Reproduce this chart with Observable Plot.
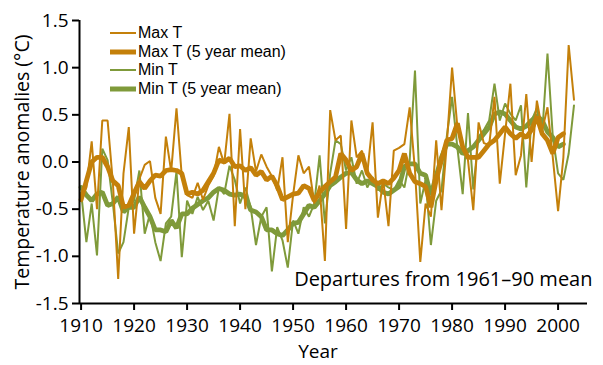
<!DOCTYPE html>
<html>
<head>
<meta charset="utf-8">
<script src="https://cdn.jsdelivr.net/npm/d3@7"></script>
<script src="https://cdn.jsdelivr.net/npm/@observablehq/plot@0.6"></script>
<style>
  html, body { margin: 0; padding: 0; background: #fff; }
  #wrap { position: relative; width: 603px; height: 365px; font-family: "Open Sans", sans-serif; }
  #legend { position: absolute; left: 110px; top: 24px; font-family: "Liberation Sans", Arial, sans-serif; font-size: 16px; line-height: 18.5px; color: #000; }
  #legend .row { display: flex; align-items: center; height: 18.5px; }
  #legend svg { margin-right: 2px; flex: none; }
</style>
</head>
<body>
<div id="wrap"><div id="legend"></div></div>
<script>
// Years
const years = d3.range(1910, 2004);
const meanYears = d3.range(1910, 2002);

// Annual maximum temperature anomalies (°C), 1910–2003
const maxT = [
  -0.38, -0.27, 0.22, -0.50, 0.44, 0.44, -0.22, -1.24, -0.12, 0.37,
  -0.76, -0.18, -0.03, 0.01, -0.38, -0.55, 0.27, -0.10, 0.57, -0.15,
  -0.35, -0.38, -0.22, -0.40, -0.25, -0.15, 0.16, -0.02, 0.51, -0.68,
  0.35, -0.50, 0.25, -0.10, 0.08, -0.05, -0.15, -0.30, 0.05, -0.85,
  -0.35, 0.07, -0.12, -0.05, -0.44, -0.25, -1.05, 0.55, 0.23, 0.28,
  -0.71, 0.44, 0.05, 0.12, -0.12, 0.42, -0.59, -0.19, -0.68, 0.12,
  0.15, 0.19, 0.58, -0.09, -1.06, -0.44, -0.58, 0.23, -0.51, 0.19,
  1.00, 0.37, 0.14, 0.02, -0.51, 0.42, 0.20, 0.18, 0.69, -0.23,
  0.30, 0.83, -0.14, 0.07, 0.72, 0.00, 0.65, 0.34, 0.58, 0.05,
  -0.52, 0.05, 1.24, 0.66
];

// Annual minimum temperature anomalies (°C), 1910–2003
const minT = [
  -0.32, -0.85, -0.44, -0.99, 0.14, 0.02, -0.44, -0.97, -0.85, -0.48,
  -0.41, -0.09, -0.76, -0.55, -0.85, -1.05, -0.65, -0.58, -0.10, -1.01,
  -0.41, -0.55, -0.37, -0.51, -0.41, -0.62, -0.27, -0.34, -0.04, -0.19,
  -0.44, -0.27, -0.48, -0.88, -0.58, -0.48, -1.16, -0.69, -0.83, -1.12,
  -0.62, -0.76, -0.48, -0.58, -0.44, 0.07, -0.65, -0.12, 0.23, 0.19,
  -0.09, 0.05, -0.23, -0.09, -0.27, -0.16, -0.30, -0.23, -0.27, -0.30,
  -0.19, -0.27, 0.02, 0.97, -0.44, -0.19, -0.88, -0.41, -0.30, 0.27,
  0.69, 0.15, -0.34, 0.52, -0.29, 0.27, 0.34, 0.44, 0.83, 0.44,
  0.62, 0.51, 0.44, 0.60, -0.27, 0.44, 0.57, 0.30, 1.15, 0.27,
  -0.12, -0.19, 0.09, 0.60
];

// 5 year mean of maximum temperature anomalies, 1910–2001
const maxT5 = [
  -0.40, -0.20, 0.00, 0.05, 0.05, -0.05, -0.20, -0.25, -0.48, -0.46,
  -0.33, -0.21, -0.28, -0.20, -0.14, -0.15, -0.09, -0.08, -0.09, -0.12,
  -0.34, -0.32, -0.34, -0.30, -0.21, -0.12, 0.02, 0.00, 0.04, -0.05,
  -0.04, -0.09, -0.06, -0.14, -0.10, -0.19, -0.15, -0.25, -0.40, -0.37,
  -0.34, -0.33, -0.25, -0.28, -0.41, -0.32, -0.26, -0.21, -0.16, 0.09,
  0.02, -0.09, -0.05, 0.09, -0.12, -0.19, -0.23, -0.20, -0.23, -0.17,
  -0.09, 0.09, -0.12, -0.21, -0.23, -0.26, -0.48, -0.19, 0.02, 0.23,
  0.25, 0.41, 0.16, 0.05, 0.05, 0.05, 0.12, 0.19, 0.23, 0.30,
  0.37, 0.30, 0.25, 0.30, 0.26, 0.34, 0.48, 0.30, 0.23, 0.09,
  0.26, 0.30
];

// 5 year mean of minimum temperature anomalies, 1910–2001
const minT5 = [
  -0.27, -0.35, -0.41, -0.34, -0.32, -0.46, -0.44, -0.37, -0.53, -0.48,
  -0.48, -0.37, -0.48, -0.58, -0.72, -0.72, -0.74, -0.62, -0.70, -0.55,
  -0.55, -0.49, -0.45, -0.41, -0.38, -0.32, -0.28, -0.30, -0.34, -0.35,
  -0.34, -0.37, -0.51, -0.53, -0.58, -0.72, -0.72, -0.76, -0.78, -0.72,
  -0.65, -0.64, -0.55, -0.46, -0.48, -0.41, -0.34, -0.25, -0.21, -0.16,
  -0.12, -0.11, -0.19, -0.23, -0.20, -0.23, -0.26, -0.32, -0.34, -0.30,
  -0.26, -0.05, -0.02, -0.02, -0.12, -0.14, -0.35, -0.15, 0.05, 0.19,
  0.19, 0.16, 0.09, 0.12, 0.16, 0.23, 0.30, 0.37, 0.51, 0.53,
  0.51, 0.44, 0.37, 0.35, 0.38, 0.44, 0.49, 0.44, 0.32, 0.26,
  0.16, 0.19
];

const yTicks = [-1.5, -1.0, -0.5, 0.0, 0.5, 1.0, 1.5];
const xTicks = [1910, 1920, 1930, 1940, 1950, 1960, 1970, 1980, 1990, 2000];
const seriesNames = ["Max T", "Max T (5 year mean)", "Min T", "Min T (5 year mean)"];

const ORANGE = "#c4800a";
const GREEN = "#7f9a3a";

const annual = years.map((y, i) => ({year: y, max: maxT[i], min: minT[i]}));
const means = meanYears.map((y, i) => ({year: y, max: maxT5[i], min: minT5[i]}));

const chart = Plot.plot({
  width: 603,
  height: 365,
  marginLeft: 79,
  marginRight: 16,
  marginTop: 20,
  marginBottom: 62,
  style: {fontFamily: "Open Sans, sans-serif", fontSize: "19px", color: "#000", background: "transparent"},
  x: {domain: [1909.7, 2005.55], ticks: xTicks, tickFormat: d => String(d), tickSize: 7, tickPadding: 8, label: null},
  y: {domain: [-1.5, 1.5], ticks: yTicks, tickFormat: d => d.toFixed(1), tickSize: 7, tickPadding: 4, label: null},
  marks: [
    Plot.lineY(annual, {x: "year", y: "min", stroke: GREEN, strokeWidth: 2, strokeLinejoin: "miter"}),
    Plot.lineY(means, {x: "year", y: "min", stroke: GREEN, strokeWidth: 4.8, strokeLinejoin: "miter"}),
    Plot.lineY(annual, {x: "year", y: "max", stroke: ORANGE, strokeWidth: 2, strokeLinejoin: "miter"}),
    Plot.lineY(means, {x: "year", y: "max", stroke: ORANGE, strokeWidth: 4.8, strokeLinejoin: "miter"}),
    Plot.ruleX([1909.7], {stroke: "#000", strokeWidth: 2}),
    Plot.ruleY([-1.5], {stroke: "#000", strokeWidth: 2}),
    Plot.text(["Departures from 1961–90 mean"], {frameAnchor: "bottom-right", textAnchor: "end", dx: 5, dy: -18, fontSize: 20, fill: "#000"})
  ]
});
chart.style.position = "absolute";
chart.style.left = "0px";
chart.style.top = "0px";
chart.querySelectorAll("[aria-label='x-axis tick'], [aria-label='y-axis tick']").forEach(g => g.setAttribute("stroke-width", "2"));
const wrap = document.getElementById("wrap");
wrap.insertBefore(chart, wrap.firstChild);

// Axis titles as real text
const svgNS = "http://www.w3.org/2000/svg";
const yTitle = document.createElementNS(svgNS, "text");
yTitle.setAttribute("transform", "translate(21,162) rotate(-90)");
yTitle.setAttribute("text-anchor", "middle");
yTitle.setAttribute("dominant-baseline", "central");
yTitle.setAttribute("font-size", "19.5");
yTitle.textContent = "Temperature anomalies (°C)";
chart.appendChild(yTitle);
const xTitle = document.createElementNS(svgNS, "text");
xTitle.setAttribute("x", "318");
xTitle.setAttribute("y", "351");
xTitle.setAttribute("text-anchor", "middle");
xTitle.setAttribute("dominant-baseline", "central");
xTitle.setAttribute("font-size", "19");
xTitle.textContent = "Year";
chart.appendChild(xTitle);

// Legend
const legend = document.getElementById("legend");
const styles = [[ORANGE, 2], [ORANGE, 5], [GREEN, 2], [GREEN, 5]];
seriesNames.forEach((name, i) => {
  const row = document.createElement("div");
  row.className = "row";
  row.innerHTML = `<svg width="26" height="10"><line x1="0" x2="26" y1="5" y2="5" stroke="${styles[i][0]}" stroke-width="${styles[i][1]}"/></svg><span>${name}</span>`;
  legend.appendChild(row);
});
</script>
</body>
</html>
